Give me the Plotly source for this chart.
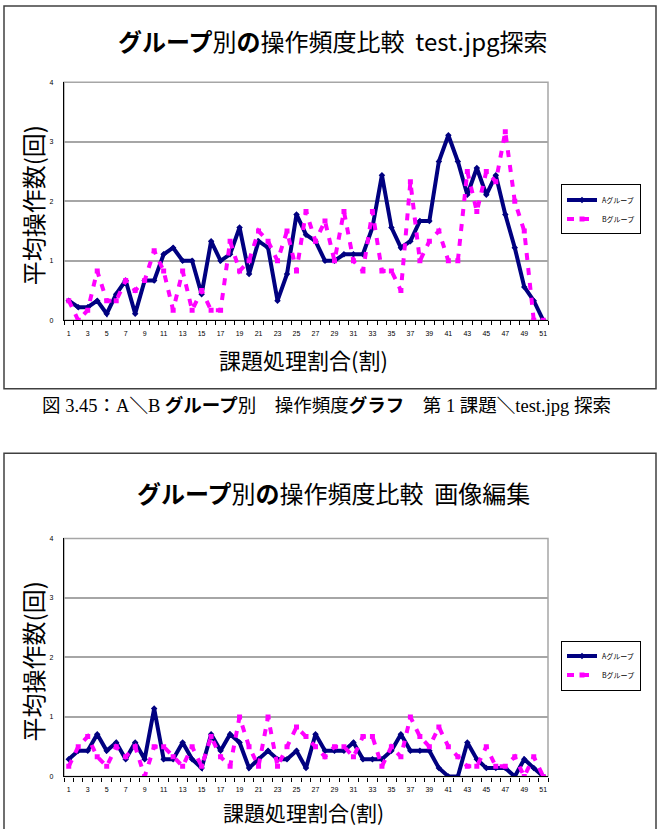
import plotly.graph_objects as go

W, H = 662, 829

categories = list(range(1, 52))
x_tick_labels = [str(i) for i in range(1, 52, 2)]
y_ticks = [0, 1, 2, 3, 4]

series_names = ["Aグループ", "Bグループ"]

# Chart 1: test.jpg 探索
test_A = [0.33, 0.22, 0.22, 0.33, 0.11, 0.44, 0.67, 0.11, 0.67, 0.67,
          1.11, 1.22, 1.00, 1.00, 0.44, 1.33, 1.00, 1.11, 1.56, 0.78,
          1.33, 1.22, 0.33, 0.78, 1.78, 1.44, 1.33, 1.00, 1.00, 1.11,
          1.11, 1.11, 1.56, 2.44, 1.56, 1.22, 1.33, 1.67, 1.67, 2.67,
          3.11, 2.67, 2.11, 2.56, 2.11, 2.44, 1.78, 1.22, 0.56, 0.33, 0.00]
test_B = [0.33, 0.00, 0.17, 0.83, 0.33, 0.33, 0.67, 0.50, 0.67, 1.17,
          0.83, 0.17, 0.83, 0.17, 0.50, 0.17, 0.17, 1.33, 0.83, 1.00,
          1.50, 1.33, 1.00, 1.50, 0.83, 1.83, 1.33, 1.67, 1.00, 1.83,
          1.00, 0.83, 1.83, 0.83, 0.83, 0.50, 2.33, 1.00, 1.33, 1.50,
          1.00, 1.00, 2.50, 1.83, 2.50, 2.33, 3.17, 2.00, 1.50, 0.00, 0.00]

# Chart 2: 画像編集
edit_A = [0.29, 0.43, 0.43, 0.71, 0.43, 0.57, 0.29, 0.57, 0.29, 1.14,
          0.29, 0.29, 0.57, 0.29, 0.14, 0.71, 0.43, 0.71, 0.57, 0.14,
          0.29, 0.43, 0.29, 0.29, 0.43, 0.14, 0.71, 0.43, 0.43, 0.43,
          0.57, 0.29, 0.29, 0.29, 0.43, 0.71, 0.43, 0.43, 0.43, 0.14,
          0.00, 0.00, 0.57, 0.29, 0.14, 0.14, 0.14, 0.00, 0.29, 0.14, 0.00]
edit_B = [0.17, 0.50, 0.67, 0.33, 0.17, 0.50, 0.33, 0.50, 0.00, 0.50,
          0.50, 0.33, 0.17, 0.50, 0.17, 0.67, 0.33, 0.17, 1.00, 0.50,
          0.17, 1.00, 0.17, 0.50, 0.83, 0.67, 0.50, 0.33, 0.50, 0.50,
          0.33, 0.67, 0.67, 0.17, 0.50, 0.33, 1.00, 0.67, 0.50, 0.83,
          0.50, 0.33, 0.17, 0.17, 0.50, 0.17, 0.17, 0.33, 0.00, 0.33, 0.00]

NB = "\u00a0"
title1 = "<b>グループ</b>別<b>の</b>操作頻度比較" + NB * 2 + "test.jpg探索"
title2 = "<b>グループ</b>別<b>の</b>操作頻度比較" + NB * 2 + "画像編集"
y_title = "平均操作数(回)"
x_title = "課題処理割合(割)"
caption = ("図 3.45：A<b>＼</b>B <b>グループ</b>別　操作頻度<b>グラフ</b>　"
           "第 1 課題<b>＼</b>test.jpg 探索")

NAVY = "#000080"
MAG = "#FF00FF"
CJK = "Noto Sans CJK JP"


def px(x):
    return x / W


def py(y):
    return 1 - y / H


fig = go.Figure()

for (a, b, xa, ya, lg) in [(test_A, test_B, "x", "y", "legend"),
                           (edit_A, edit_B, "x2", "y2", "legend2")]:
    fig.add_trace(go.Scatter(
        x=categories, y=a, name=series_names[0], xaxis=xa, yaxis=ya, legend=lg,
        mode="lines+markers",
        line=dict(color=NAVY, width=4),
        marker=dict(symbol="diamond", size=5, color=NAVY)))
    fig.add_trace(go.Scatter(
        x=categories, y=b, name=series_names[1], xaxis=xa, yaxis=ya, legend=lg,
        mode="lines+markers",
        line=dict(color=MAG, width=4, dash="7px,8px"),
        marker=dict(symbol="square", size=5, color=MAG)))

xcommon = dict(
    range=[0.5, 51.5], tickmode="array",
    tickvals=list(range(1, 52, 2)), ticktext=x_tick_labels,
    ticks="outside", ticklen=6, tickcolor="rgba(0,0,0,0)",
    tickfont=dict(size=7, color="#000", family="Liberation Sans"),
    showgrid=False, zeroline=False,
    showline=True, linecolor="#000", linewidth=1.2,
    minor=dict(tickmode="array", tickvals=[i + 0.5 for i in range(0, 52)],
               ticks="outside", ticklen=4, tickcolor="#000", tickwidth=1),
    domain=[px(64), px(548)], fixedrange=True)

ycommon = dict(
    range=[0, 4], tickmode="array", tickvals=y_ticks,
    ticks="outside", ticklen=8, tickcolor="rgba(0,0,0,0)",
    tickfont=dict(size=7, color="#000", family="Liberation Sans"),
    showgrid=True, gridcolor="#A6A6A6", gridwidth=1.5,
    zeroline=False, showline=True, linecolor="#000", linewidth=1.2,
    fixedrange=True)

leg = dict(xanchor="left", yanchor="top",
           bordercolor="#000", borderwidth=1, bgcolor="white",
           font=dict(size=7, family=CJK, color="#000"),
           itemwidth=30, tracegroupgap=0)

fig.update_layout(
    width=W, height=H,
    margin=dict(l=0, r=0, t=0, b=0),
    paper_bgcolor="white", plot_bgcolor="white",
    xaxis=dict(**xcommon, anchor="y"),
    yaxis=dict(**ycommon, anchor="x", domain=[py(319), py(79)]),
    xaxis2=dict(**xcommon, anchor="y2"),
    yaxis2=dict(**ycommon, anchor="x2", domain=[py(779), py(539)]),
    legend=dict(x=px(561), y=py(182), **leg),
    legend2=dict(x=px(561), y=py(642), **leg),
    showlegend=True,
)

shapes = []
# Outer chart boxes
shapes.append(dict(type="rect", xref="paper", yref="paper",
                   x0=px(4), x1=px(656), y0=py(388), y1=py(2),
                   line=dict(color="#404040", width=1.5)))
shapes.append(dict(type="rect", xref="paper", yref="paper",
                   x0=px(4), x1=px(656), y0=py(860), y1=py(453),
                   line=dict(color="#404040", width=1.5)))
# Plot area borders (gray)
for xr, yr in [("x domain", "y domain"), ("x2 domain", "y2 domain")]:
    shapes.append(dict(type="rect", xref=xr, yref=yr, x0=0, x1=1, y0=0, y1=1,
                       line=dict(color="#A6A6A6", width=1.5), layer="below"))
fig.update_layout(shapes=shapes)

ann = []
for ty, t in [(37, title1), (493, title2)]:
    ann.append(dict(xref="paper", yref="paper", x=px(333), y=py(ty),
                    text=t, showarrow=False, xanchor="center", yanchor="middle",
                    font=dict(size=24, family=CJK, color="#000")))
for cy in [203, 663]:
    ann.append(dict(xref="paper", yref="paper", x=px(32), y=py(cy),
                    text=y_title, showarrow=False, textangle=-90,
                    xanchor="center", yanchor="middle",
                    font=dict(size=24, family=CJK, color="#000")))
for cy, fs in [(358, 22), (815, 21)]:
    ann.append(dict(xref="paper", yref="paper", x=px(303), y=py(cy),
                    text=x_title, showarrow=False,
                    xanchor="center", yanchor="middle",
                    font=dict(size=fs, family=CJK, color="#000")))
ann.append(dict(xref="paper", yref="paper", x=px(326), y=py(405),
                text=caption, showarrow=False, xanchor="center", yanchor="middle",
                font=dict(size=18.5, family="Liberation Serif, " + CJK, color="#000")))
fig.update_layout(annotations=ann)

fig.write_html("out.html")
